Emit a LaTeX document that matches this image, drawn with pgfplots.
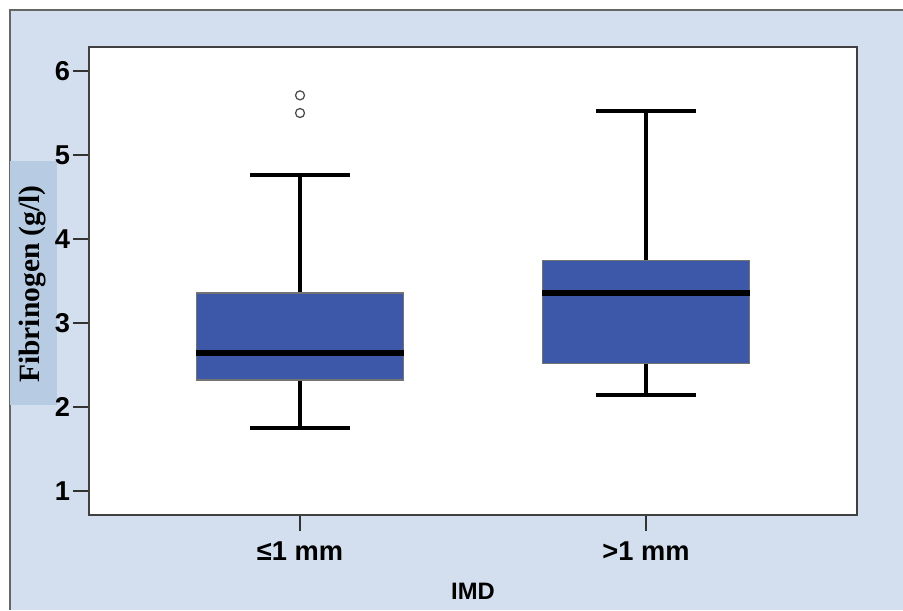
\documentclass[border=0pt]{standalone}
\usepackage{pgfplots}
\pgfplotsset{compat=1.18}
\usepgfplotslibrary{statistics}
\usepackage{fontspec}
\setmainfont{Liberation Sans}
\newfontfamily\serifb{Liberation Serif}
\definecolor{bgblue}{HTML}{D3DFEE}
\definecolor{lblblue}{HTML}{B7CCE3}
\definecolor{boxblue}{HTML}{3D58A8}
\begin{document}
\begin{tikzpicture}
\path[use as bounding box] (0,0) rectangle (361.2pt,244pt);
\fill[bgblue] (4pt,0) rectangle (361.2pt,240pt);
\draw[gray!80!black, line width=0.5pt] (4pt,0) -- (4pt,240pt) -- (361.2pt,240pt);
\fill[lblblue] (4pt,82pt) rectangle (22.8pt,179.6pt);
\node[rotate=90, font=\serifb\bfseries\fontsize{11.8}{13}\selectfont] at (13.0pt,130.4pt) {Fibrinogen (g/l)};
\begin{axis}[
  at={(35.6pt,38pt)}, anchor=south west,
  scale only axis, width=307.2pt, height=187.2pt,
  xmin=0.39, xmax=2.61, ymin=0.714, ymax=6.286,
  axis background/.style={fill=white},
  axis line style={draw=black!75, line width=0.6pt},
  xtick={1,2}, xticklabels={≤1 mm,>1 mm},
  ytick={1,2,3,4,5,6},
  tick align=outside, tick pos=left,
  major tick length=6.4pt,
  tick style={black!80, line width=0.5pt},
  /pgf/number format/assume math mode=true,
  ticklabel style={font=\bfseries\fontsize{10.9}{12}\selectfont},
  yticklabel style={inner sep=1pt},
  xticklabel style={inner sep=4pt},
  xlabel={IMD},
  xlabel style={font=\bfseries\fontsize{9.5}{11}\selectfont, yshift=-1.6pt},
  boxplot/draw direction=y,
  boxplot/box extend=0.6,
  boxplot/whisker extend=0.29,
  boxplot/every box/.style={fill=boxblue, draw=black!55, line width=0.5pt},
  boxplot/every whisker/.style={black, line width=1.7pt},
  boxplot/every median/.style={black, line width=2.4pt},
  clip=false,
]
\addplot+[boxplot prepared={draw position=1, lower whisker=1.75, lower quartile=2.32, median=2.64, upper quartile=3.357, upper whisker=4.76}, mark=o, mark size=1.8pt, mark options={draw=black!70, line width=0.5pt, fill=white}, draw=black, solid]
  table[row sep=\\, y index=0] {5.71\\ 5.50\\};
\addplot+[boxplot prepared={draw position=2, lower whisker=2.14, lower quartile=2.52, median=3.36, upper quartile=3.74, upper whisker=5.52}, draw=black, solid]
  coordinates {};
\end{axis}
\end{tikzpicture}
\end{document}
